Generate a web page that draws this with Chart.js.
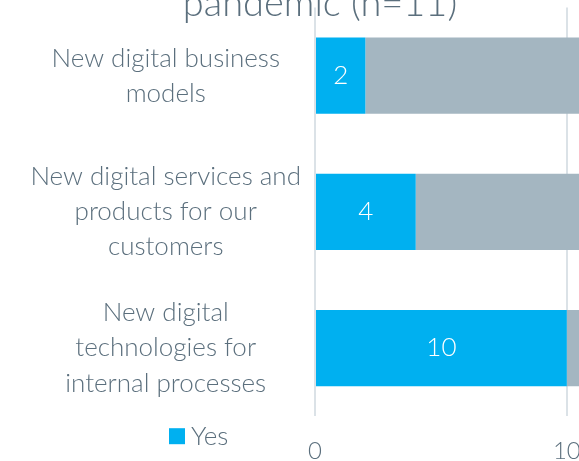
<!DOCTYPE html>
<html>
<head>
<meta charset="utf-8">
<script src="https://cdn.jsdelivr.net/npm/chart.js@4.4.1/dist/chart.umd.min.js"></script>
<style>
  html, body { margin: 0; padding: 0; background: #fff; overflow: hidden; width: 579px; height: 461px; }
  #wrap { position: absolute; left: 0; top: -57px; width: 640px; height: 544px; }
</style>
</head>
<body>
<div id="wrap"><canvas id="chart" width="640" height="544"></canvas></div>
<script>
/* =========================
    Data
========================= */
const categories = [
    ['New digital business', 'models'],
    ['New digital services and', 'products for our', 'customers'],
    ['New digital', 'technologies for', 'internal processes']
];
const seriesNames = ['Yes', 'No'];
const yesValues = [2, 4, 10];
const noValues = [9, 7, 1];
const xTickValues = [0, 10];
const xMax = 11;
const chartTitle = 'pandemic (n=11)';

/* =========================
    Style
========================= */
const FONT = 'Lato';
const TEXT = '#5b6f7d';
const BLUE = '#00b0f0';
const GREY = '#a4b6c1';
const GRID = '#dbe2e7';

// white value labels inside the "Yes" bars
const valueLabels = {
    id: 'valueLabels',
    afterDatasetsDraw(chart) {
        const ctx = chart.ctx;
        const meta = chart.getDatasetMeta(0);
        ctx.save();
        ctx.fillStyle = '#fff';
        ctx.font = `300 26px ${FONT}`;
        ctx.textAlign = 'center';
        ctx.textBaseline = 'middle';
        meta.data.forEach((bar, i) => {
            ctx.fillText(String(chart.data.datasets[0].data[i]), (bar.x + bar.base) / 2, bar.y);
        });
        ctx.restore();
    }
};

// legend sits left of the x-axis labels, only the first series is shown
const sideLegend = {
    id: 'sideLegend',
    afterDraw(chart) {
        const ctx = chart.ctx;
        const area = chart.chartArea;
        const ds = chart.data.datasets[0];
        ctx.save();
        ctx.fillStyle = ds.backgroundColor;
        ctx.fillRect(area.left - 146, area.bottom + 12, 16, 16);
        ctx.fillStyle = TEXT;
        ctx.font = `300 26px ${FONT}`;
        ctx.textAlign = 'left';
        ctx.textBaseline = 'middle';
        ctx.fillText(ds.label, area.left - 124, area.bottom + 20);
        ctx.restore();
    }
};

// title is centred on the whole canvas, not only up to the right padding
const fullWidthTitle = {
    id: 'fullWidthTitle',
    afterLayout(chart) {
        chart.titleBlock.left = 0;
        chart.titleBlock.right = chart.width;
    }
};

const ctx = document.getElementById('chart').getContext('2d');
new Chart(ctx, {
    type: 'bar',
    data: {
        labels: categories,
        datasets: [
            { label: seriesNames[0], data: yesValues, backgroundColor: BLUE },
            { label: seriesNames[1], data: noValues, backgroundColor: GREY }
        ]
    },
    options: {
        indexAxis: 'y',
        responsive: false,
        animation: false,
        events: [],
        layout: { padding: { top: 0, right: 48, bottom: 0, left: 0 } },
        datasets: { bar: { categoryPercentage: 1, barPercentage: 0.56, borderWidth: 0 } },
        plugins: {
            legend: { display: false },
            tooltip: { enabled: false },
            title: {
                display: true,
                text: chartTitle,
                color: TEXT,
                font: { family: FONT, size: 38, weight: '300' },
                padding: { top: 38, bottom: -19 }
            }
        },
        scales: {
            x: {
                stacked: true,
                min: 0,
                max: xMax,
                afterBuildTicks: s => { s.ticks = xTickValues.map(v => ({ value: v })); },
                grid: { color: GRID, lineWidth: 2, drawTicks: false },
                border: { display: false },
                ticks: { color: TEXT, padding: 21, font: { family: FONT, size: 24, weight: '300' } }
            },
            y: {
                stacked: true,
                afterFit: s => { s.width = 315; },
                grid: { display: false },
                border: { display: false },
                ticks: {
                    color: TEXT,
                    crossAlign: 'center',
                    padding: 6,
                    font: { family: FONT, size: 26, weight: '300', lineHeight: 1.35 }
                }
            }
        }
    },
    plugins: [valueLabels, sideLegend, fullWidthTitle]
});
</script>
</body>
</html>
